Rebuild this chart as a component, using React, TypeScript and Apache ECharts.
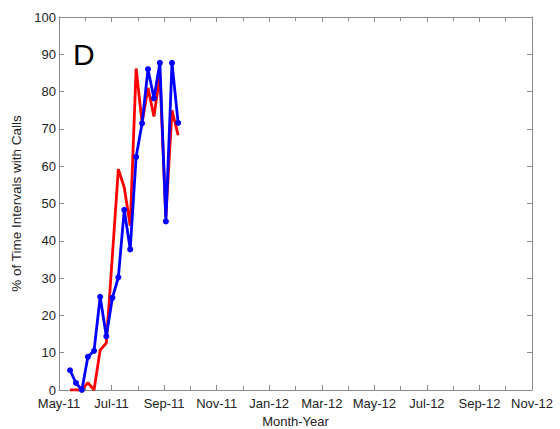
import React, { useEffect, useRef } from "react";
import * as echarts from "echarts";

const weekDates: string[] = [
  "2011-05-14", "2011-05-21", "2011-05-28", "2011-06-04", "2011-06-11",
  "2011-06-18", "2011-06-25", "2011-07-02", "2011-07-09", "2011-07-16",
  "2011-07-23", "2011-07-30", "2011-08-06", "2011-08-13", "2011-08-20",
  "2011-08-27", "2011-09-03", "2011-09-10", "2011-09-17",
];
const blueValues: number[] = [5.3, 1.9, 0, 8.9, 10.5, 25.0, 14.4, 24.7, 30.2, 48.3, 37.7, 62.5, 71.5, 86.0, 78.2, 87.7, 45.2, 87.7, 71.6];
const redValues: number[] = [0, 0, 0, 2.0, 0, 10.7, 12.6, 36, 59.2, 54.3, 44, 86.2, 71.6, 81.0, 73.3, 84.6, 46.3, 75.0, 68.3];
const monthNames: string[] = ["Jan", "Feb", "Mar", "Apr", "May", "Jun", "Jul", "Aug", "Sep", "Oct", "Nov", "Dec"];
const yTicks: number[] = [0, 10, 20, 30, 40, 50, 60, 70, 80, 90, 100];

// month offset since 2011-05-01
function toMonths(d: string): number {
  const [y, m, day] = d.split("-").map(Number);
  const dim = new Date(y, m, 0).getDate();
  return (y - 2011) * 12 + (m - 5) + (day - 1) / dim;
}
function monthLabel(v: number): string {
  const total = Math.round(v) + 4; // months since Jan 2011
  const y = 11 + Math.floor(total / 12);
  return monthNames[total % 12] + "-" + y;
}

export default function App() {
  const ref = useRef<HTMLDivElement>(null);
  useEffect(() => {
    if (!ref.current) return;
    const chart = echarts.init(ref.current, null, { renderer: "svg" });
    const font = "Liberation Sans, Arial, sans-serif";
    const frameColor = "#8a8a8a";
    const tickStyle = { show: true, inside: true, length: 5, lineStyle: { color: frameColor } };
    chart.setOption({
      animation: false,
      backgroundColor: "#ffffff",
      grid: { left: 59, right: 28, top: 17, bottom: 39, show: false, containLabel: false, outerBoundsMode: "none" },
      xAxis: [
        {
          type: "value", min: 0, max: 18, interval: 2, position: "bottom",
          axisLine: { show: true, onZero: false, lineStyle: { color: frameColor, width: 1 } },
          axisTick: tickStyle,
          minorTick: { show: true, splitNumber: 2, length: 4, lineStyle: { color: frameColor } },
          splitLine: { show: false },
          axisLabel: { formatter: (v: number) => monthLabel(v), color: "#222", fontFamily: font, fontSize: 13, margin: 7 },
          name: "Month-Year", nameLocation: "middle", nameGap: 15,
          nameTextStyle: { color: "#222", fontFamily: font, fontSize: 13 },
        },
        {
          type: "value", min: 0, max: 18, interval: 2, position: "top",
          axisLine: { show: true, onZero: false, lineStyle: { color: frameColor, width: 1 } },
          axisTick: tickStyle,
          minorTick: { show: true, splitNumber: 2, length: 4, lineStyle: { color: frameColor } },
          splitLine: { show: false }, axisLabel: { show: false },
        },
      ],
      yAxis: [
        {
          type: "value", min: 0, max: 100, interval: 10, position: "left",
          axisLine: { show: true, onZero: false, lineStyle: { color: frameColor, width: 1 } },
          axisTick: tickStyle, splitLine: { show: false },
          axisLabel: { formatter: (v: number) => (yTicks.includes(v) ? String(v) : ""), color: "#222", fontFamily: font, fontSize: 13, margin: 3 },
          name: "% of Time Intervals with Calls", nameLocation: "middle", nameGap: 34, nameRotate: 90,
          nameTextStyle: { color: "#222", fontFamily: font, fontSize: 13.5 },
        },
        {
          type: "value", min: 0, max: 100, interval: 10, position: "right",
          axisLine: { show: true, onZero: false, lineStyle: { color: frameColor, width: 1 } },
          axisTick: tickStyle, splitLine: { show: false }, axisLabel: { show: false },
        },
      ],
      graphic: [
        { type: "text", left: 73, top: 39, style: { text: "D", font: "30px " + font, fill: "#000" } },
      ],
      series: [
        {
          type: "line", xAxisIndex: 0, yAxisIndex: 0,
          data: weekDates.map((d, i) => [toMonths(d), redValues[i]]),
          showSymbol: false, symbol: "none",
          lineStyle: { color: "#ff0000", width: 2.8 },
          itemStyle: { color: "#ff0000" },
        },
        {
          type: "line", xAxisIndex: 0, yAxisIndex: 0,
          data: weekDates.map((d, i) => [toMonths(d), blueValues[i]]),
          symbol: "circle", symbolSize: 6,
          lineStyle: { color: "#0000ff", width: 2.8 },
          itemStyle: { color: "#0000ff" },
        },
      ],
    });
    return () => chart.dispose();
  }, []);
  return <div ref={ref} style={{ position: "absolute", left: 0, top: 0, width: 560, height: 429 }} />;
}
